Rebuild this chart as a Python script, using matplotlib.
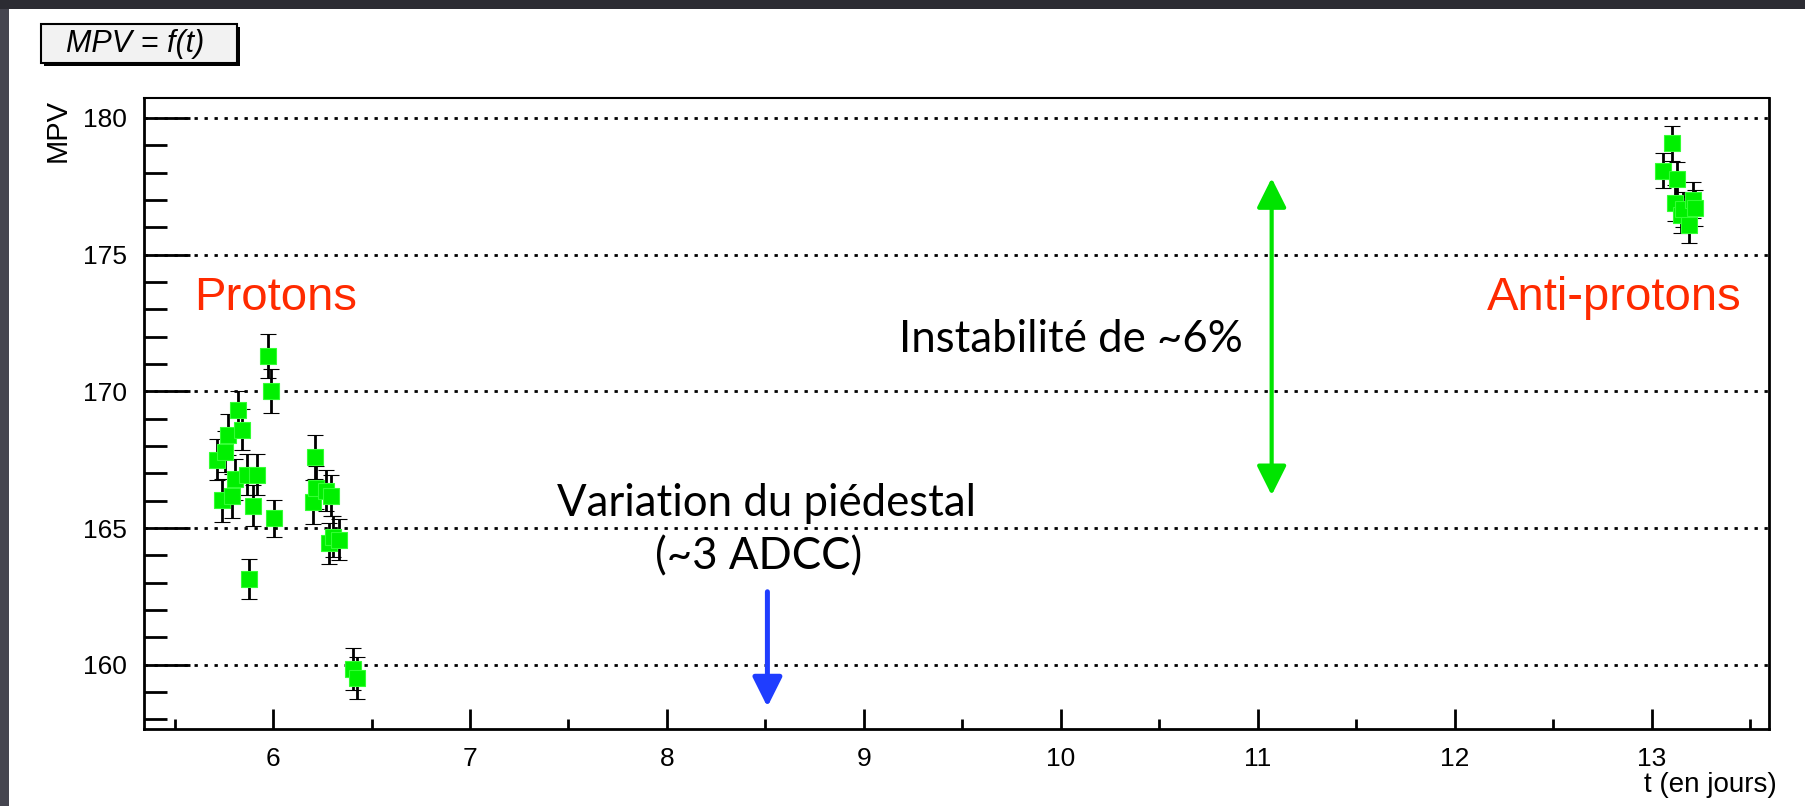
import matplotlib
matplotlib.use("Agg")
import matplotlib.pyplot as plt
from matplotlib.patches import Rectangle
from matplotlib.ticker import MultipleLocator

# ---- data: most probable value of the energy deposit vs. time ----
t_protons = [5.717, 5.739, 5.756, 5.773, 5.790, 5.807, 5.824, 5.844, 5.866,
             5.880, 5.897, 5.917, 5.973, 5.990, 6.006, 6.205, 6.212, 6.217,
             6.270, 6.282, 6.294, 6.306, 6.336, 6.408, 6.428]
mpv_protons = [167.50, 166.01, 167.80, 168.41, 166.18, 166.79, 169.30, 168.59,
               166.95, 163.13, 165.81, 166.95, 171.30, 170.00, 165.35, 165.94,
               167.59, 166.48, 166.37, 164.45, 166.19, 164.69, 164.57, 159.84,
               159.51]
err_protons = [0.75, 0.80, 0.75, 0.75, 0.80, 0.75, 0.72, 0.75, 0.75, 0.72,
               0.75, 0.75, 0.80, 0.80, 0.68, 0.80, 0.80, 0.80, 0.75, 0.75,
               0.75, 0.75, 0.75, 0.76, 0.78]

t_antiprotons = [13.057, 13.100, 13.128, 13.116, 13.150, 13.160, 13.190,
                 13.210, 13.218]
mpv_antiprotons = [178.07, 179.07, 177.76, 176.88, 176.45, 176.66, 176.09,
                   177.00, 176.70]
err_antiprotons = [0.64, 0.65, 0.63, 0.65, 0.65, 0.65, 0.67, 0.65, 0.65]

x_major_ticks = [6, 7, 8, 9, 10, 11, 12, 13]
y_major_ticks = [160, 165, 170, 175, 180]

W, H = 1806, 806
fig = plt.figure(figsize=(W / 100, H / 100), dpi=100, facecolor="#2c2c33")

# white slide area (behind the axes)
fig.patches.append(Rectangle((9 / W, 0), 1 - 9 / W, 1 - 9 / H,
                             transform=fig.transFigure, facecolor="white",
                             edgecolor="none", zorder=-10))
# slightly lighter left margin of the slide frame
fig.patches.append(Rectangle((0, 0), 9 / W, 1 - 9 / H,
                             transform=fig.transFigure, facecolor="#45454f",
                             edgecolor="none", zorder=-10))

ax = fig.add_axes([144 / W, 1 - 729 / H, (1769 - 144) / W, (729 - 98) / H])
ax.set_facecolor("white")
ax.set_xlim(5.345, 13.595)
ax.set_ylim(157.65, 180.73)

for s in ax.spines.values():
    s.set_linewidth(2.0)
    s.set_color("black")
ax.spines["top"].set_linewidth(1.5)

ax.set_xticks(x_major_ticks)
ax.set_yticks(y_major_ticks)
ax.xaxis.set_minor_locator(MultipleLocator(0.5))
ax.yaxis.set_minor_locator(MultipleLocator(1))
ax.tick_params(axis="both", which="both", direction="in", width=2,
               color="black", top=False, right=False)
ax.tick_params(axis="y", which="major", length=33, pad=12, labelsize=19)
ax.tick_params(axis="y", which="minor", length=16.5)
ax.tick_params(axis="x", which="major", length=14.5, pad=13, labelsize=19)
ax.tick_params(axis="x", which="minor", length=7)
for lab in ax.get_xticklabels() + ax.get_yticklabels():
    lab.set_family("Liberation Sans")

# dotted horizontal grid at the major y ticks
for y in y_major_ticks:
    ax.axhline(y, color="black", lw=2, dashes=(1.2, 2.4), zorder=1)

err_style = dict(fmt="s", color="black", ecolor="black", elinewidth=2,
                 capsize=5.5, capthick=2, markersize=11,
                 markerfacecolor="#00f000", markeredgecolor="#33ff33",
                 markeredgewidth=0.8, zorder=3)
ax.errorbar(t_protons, mpv_protons, yerr=err_protons, **err_style)
ax.errorbar(t_antiprotons, mpv_antiprotons, yerr=err_antiprotons, **err_style)

# axis titles
ax.set_ylabel("MPV", fontsize=21, family="Liberation Sans")
ax.yaxis.set_label_coords(-86 / (1769 - 144), 1 - 33 / (729 - 98))
ax.yaxis.label.set_verticalalignment("center")
ax.text(1.005, -0.068, "t (en jours)", transform=ax.transAxes,
        ha="right", va="top", fontsize=20, family="Liberation Sans")

# annotations
red = "#ff2a00"
ax.text(6.015, 172.98, "Protons", color=red, fontsize=34,
        family="Liberation Sans", ha="center", va="baseline")
ax.text(12.81, 172.98, "Anti-protons", color=red, fontsize=34,
        family="Liberation Sans", ha="center", va="baseline")

ax.text(10.05, 171.45, "Instabilité de ~6%", fontsize=31.5, family="Lato",
        ha="center", va="baseline")
ax.text(8.507, 165.45, "Variation du piédestal", fontsize=31.5, family="Lato",
        ha="center", va="baseline")
ax.text(8.467, 163.47, "(~3 ADCC)", fontsize=31.5, family="Lato",
        ha="center", va="baseline")

ax.annotate("", xy=(11.07, 166.2), xytext=(11.07, 177.8),
            arrowprops=dict(arrowstyle="<|-|>,head_length=0.6,head_width=0.3",
                            mutation_scale=30, lw=3, color="#00e400",
                            shrinkA=0, shrinkB=0), zorder=4)
ax.annotate("", xy=(8.51, 158.46), xytext=(8.51, 162.67),
            arrowprops=dict(arrowstyle="-|>,head_length=0.6,head_width=0.3",
                            mutation_scale=30, lw=3.6, color="#1f3dff",
                            shrinkA=0, shrinkB=0), zorder=4)

# title box with drop shadow
bx, by, bw, bh = 41 / W, 1 - 63 / H, 196 / W, 39 / H
fig.patches.append(Rectangle((bx + 3 / W, by - 3 / H), bw, bh,
                             transform=fig.transFigure, facecolor="black",
                             edgecolor="none", zorder=5))
fig.patches.append(Rectangle((bx, by), bw, bh, transform=fig.transFigure,
                             facecolor="#f2f2f2", edgecolor="black", lw=1.5,
                             zorder=6))
fig.text(135 / W, 1 - 44 / H, "MPV = f(t)", fontsize=22, style="italic",
         family="Liberation Sans", ha="center", va="center", zorder=7)

fig.savefig("out.png", dpi=100, facecolor=fig.get_facecolor())
